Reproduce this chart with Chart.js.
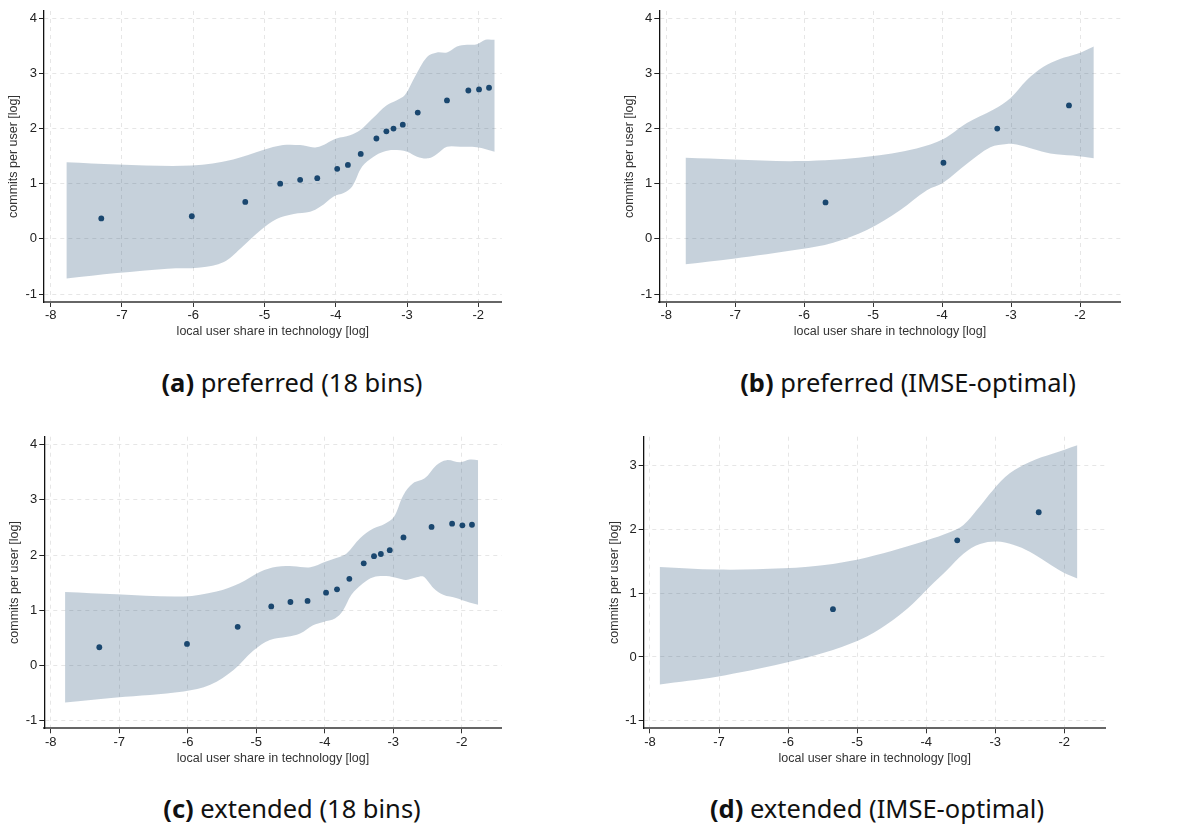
<!DOCTYPE html>
<html>
<head>
<meta charset="utf-8">
<script src="https://cdn.jsdelivr.net/npm/chart.js@4.4.1/dist/chart.umd.min.js"></script>
<style>
  html, body { margin: 0; padding: 0; background: #fff; }
  #page { position: relative; width: 1195px; height: 830px; overflow: hidden; background: #fff; }
  canvas { position: absolute; }
  .cap { position: absolute; transform: translateX(-50%); white-space: nowrap;
         font-family: "Noto Sans", "Open Sans", sans-serif; font-size: 25.5px; color: #111; line-height: 1; }
  .cap b { font-weight: 700; }
</style>
</head>
<body>
<div id="page">
  <canvas id="pa" width="600" height="345" style="left:0px;top:0px"></canvas>
  <canvas id="pb" width="595" height="345" style="left:600px;top:0px"></canvas>
  <canvas id="pc" width="600" height="350" style="left:0px;top:420px"></canvas>
  <canvas id="pd" width="595" height="350" style="left:600px;top:420px"></canvas>
  <div class="cap" style="left:292px;top:370px"><b>(a)</b> preferred (18 bins)</div>
  <div class="cap" style="left:908px;top:370px"><b>(b)</b> preferred (IMSE-optimal)</div>
  <div class="cap" style="left:292px;top:796px"><b>(c)</b> extended (18 bins)</div>
  <div class="cap" style="left:877px;top:796px"><b>(d)</b> extended (IMSE-optimal)</div>
</div>
<script>
// Axis tick values
const xTicks = [-8, -7, -6, -5, -4, -3, -2];
const yTicksFull = [-1, 0, 1, 2, 3, 4];
const yTicksShort = [-1, 0, 1, 2, 3];

const xTitle = 'local user share in technology [log]';
const yTitle = 'commits per user [log]';

// (a) preferred, 18 bins
const aBinX = [-7.29, -6.02, -5.27, -4.78, -4.50, -4.26, -3.98, -3.83, -3.65, -3.43, -3.29, -3.19, -3.06, -2.85, -2.44, -2.14, -1.99, -1.85];
const aBinY = [0.37, 0.41, 0.67, 1.00, 1.07, 1.10, 1.27, 1.34, 1.54, 1.82, 1.95, 2.00, 2.07, 2.29, 2.51, 2.69, 2.71, 2.74];
const aUpperX = [-7.78, -7.07, -6.02, -5.44, -5.02, -4.74, -4.50, -4.27, -3.99, -3.80, -3.66, -3.47, -3.29, -3.15, -3.03, -2.89, -2.72, -2.58, -2.44, -2.30, -2.16, -2.02, -1.90, -1.77];
const aUpperY = [1.39, 1.35, 1.33, 1.44, 1.61, 1.70, 1.70, 1.66, 1.82, 1.88, 1.97, 2.20, 2.42, 2.51, 2.61, 2.94, 3.30, 3.38, 3.38, 3.49, 3.52, 3.53, 3.61, 3.61];
const aLowerX = [-7.78, -7.07, -6.36, -5.90, -5.57, -5.34, -5.06, -4.83, -4.59, -4.36, -4.22, -4.03, -3.89, -3.77, -3.63, -3.47, -3.33, -3.19, -3.00, -2.86, -2.70, -2.58, -2.44, -2.25, -2.02, -1.77];
const aLowerY = [-0.72, -0.62, -0.54, -0.52, -0.42, -0.18, 0.15, 0.36, 0.45, 0.49, 0.58, 0.77, 0.83, 0.95, 1.31, 1.49, 1.58, 1.61, 1.58, 1.49, 1.46, 1.54, 1.67, 1.67, 1.66, 1.58];

// (b) preferred, IMSE-optimal bins
const bBinX = [-5.69, -3.98, -3.20, -2.16];
const bBinY = [0.66, 1.38, 2.00, 2.42];
const bUpperX = [-7.72, -7.03, -6.06, -5.09, -4.37, -3.98, -3.64, -3.26, -3.01, -2.77, -2.53, -2.29, -2.05, -1.80];
const bUpperY = [1.47, 1.44, 1.41, 1.49, 1.64, 1.81, 2.10, 2.34, 2.55, 2.88, 3.12, 3.26, 3.35, 3.49];
const bLowerX = [-7.72, -7.03, -6.06, -5.58, -5.09, -4.61, -4.22, -3.98, -3.64, -3.30, -3.06, -2.92, -2.68, -2.43, -2.10, -1.80];
const bLowerY = [-0.46, -0.36, -0.19, -0.07, 0.16, 0.52, 0.88, 1.02, 1.36, 1.66, 1.72, 1.71, 1.63, 1.55, 1.51, 1.46];

// (c) extended, 18 bins
const cBinX = [-7.29, -6.01, -5.27, -4.78, -4.50, -4.25, -3.98, -3.82, -3.64, -3.43, -3.28, -3.18, -3.05, -2.85, -2.44, -2.14, -1.99, -1.85];
const cBinY = [0.33, 0.39, 0.70, 1.07, 1.15, 1.17, 1.32, 1.38, 1.57, 1.85, 1.98, 2.02, 2.09, 2.32, 2.51, 2.57, 2.54, 2.55];
const cUpperX = [-7.79, -7.04, -6.06, -5.58, -5.24, -4.94, -4.70, -4.46, -4.21, -3.99, -3.82, -3.68, -3.48, -3.29, -3.12, -2.99, -2.85, -2.71, -2.54, -2.37, -2.22, -2.02, -1.88, -1.76];
const cUpperY = [1.33, 1.29, 1.25, 1.34, 1.49, 1.70, 1.79, 1.80, 1.78, 1.88, 1.95, 2.03, 2.31, 2.48, 2.57, 2.69, 3.09, 3.30, 3.39, 3.63, 3.72, 3.68, 3.73, 3.72];
const cLowerX = [-7.79, -7.04, -6.06, -5.67, -5.33, -5.04, -4.80, -4.55, -4.36, -4.17, -4.02, -3.85, -3.73, -3.61, -3.44, -3.29, -3.10, -2.93, -2.81, -2.66, -2.56, -2.41, -2.27, -2.07, -1.93, -1.76];
const cLowerY = [-0.67, -0.58, -0.47, -0.35, -0.08, 0.27, 0.46, 0.52, 0.58, 0.73, 0.79, 0.85, 1.00, 1.28, 1.49, 1.60, 1.62, 1.58, 1.55, 1.60, 1.61, 1.40, 1.28, 1.22, 1.16, 1.10];

// (d) extended, IMSE-optimal bins
const dBinX = [-5.35, -3.55, -2.37];
const dBinY = [0.75, 1.83, 2.27];
const dUpperX = [-7.86, -7.03, -6.07, -5.35, -4.86, -4.38, -3.99, -3.65, -3.46, -3.27, -3.03, -2.79, -2.50, -2.16, -1.81];
const dUpperY = [1.41, 1.37, 1.39, 1.46, 1.56, 1.70, 1.83, 1.96, 2.07, 2.30, 2.62, 2.88, 3.06, 3.19, 3.32];
const dLowerX = [-7.86, -7.03, -6.07, -5.35, -4.86, -4.48, -4.19, -3.95, -3.70, -3.46, -3.22, -2.98, -2.74, -2.50, -2.26, -2.02, -1.81];
const dLowerY = [-0.43, -0.31, -0.10, 0.11, 0.32, 0.58, 0.84, 1.10, 1.36, 1.62, 1.77, 1.81, 1.76, 1.65, 1.49, 1.33, 1.23];

const BAND = 'rgba(26, 71, 111, 0.25)';
const DOT = '#1a476f';
const GRID = '#e6e6e6';
const TICK_FONT = { family: '"Liberation Sans", Arial, sans-serif', size: 13 };
const TITLE_SIZE = 12.5;
const TITLE_FONT = { family: '"Liberation Sans", Arial, sans-serif', size: TITLE_SIZE, lineHeight: 1.2 };
const HALF_TITLE = TITLE_SIZE * 1.2 / 2;

const zip = (xs, ys) => xs.map((x, i) => ({ x, y: ys[i] }));

function binPlot(id, d, frame) {
  const cv = document.getElementById(id);
  const W = cv.width, H = cv.height;
  const padLeft = frame.yTitleX - HALF_TITLE;
  const yWidth = frame.left - padLeft;
  const xHeight = frame.xTitleY + HALF_TITLE - frame.bottom;
  const padBottom = H - frame.xTitleY - HALF_TITLE;

  new Chart(cv, {
    type: 'scatter',
    data: {
      datasets: [
        // bin means on top of the confidence band
        { type: 'scatter', order: 0, data: zip(d.binX, d.binY), pointRadius: 2.9, pointHoverRadius: 2.9,
          backgroundColor: DOT, borderColor: DOT, borderWidth: 0 },
        { type: 'line', order: 2, data: zip(d.lowX, d.lowY), borderWidth: 0, pointRadius: 0,
          tension: 0.35, fill: false, borderColor: 'rgba(0,0,0,0)' },
        { type: 'line', order: 1, data: zip(d.upX, d.upY), borderWidth: 0, pointRadius: 0,
          tension: 0.35, fill: 1, backgroundColor: BAND, borderColor: 'rgba(0,0,0,0)' }
      ]
    },
    options: {
      responsive: false,
      animation: false,
      devicePixelRatio: 1,
      layout: { padding: { left: padLeft, top: frame.top, right: W - frame.right, bottom: padBottom } },
      plugins: { legend: { display: false }, tooltip: { enabled: false } },
      scales: {
        x: {
          type: 'linear', min: frame.xMin, max: frame.xMax,
          afterBuildTicks: s => { s.ticks = xTicks.map(v => ({ value: v })); },
          afterFit: s => { s.height = xHeight; },
          ticks: { font: TICK_FONT, color: '#222', padding: 1, maxRotation: 0, autoSkip: false,
                   callback: v => String(v) },
          grid: { color: GRID, lineWidth: 1, tickLength: 5, tickColor: '#333', tickWidth: 1 },
          border: { color: '#666', width: 2, dash: [4, 4] },
          title: { display: true, text: xTitle, font: TITLE_FONT, color: '#333', padding: 0 }
        },
        y: {
          type: 'linear', min: frame.yMin, max: frame.yMax,
          afterBuildTicks: s => { s.ticks = frame.yTicks.map(v => ({ value: v })); },
          afterFit: s => { s.width = yWidth; },
          ticks: { font: TICK_FONT, color: '#222', padding: 2, autoSkip: false,
                   callback: v => String(v) },
          grid: { color: GRID, lineWidth: 1, tickLength: 5, tickColor: '#222', tickWidth: 1 },
          border: { color: '#111', width: 1.3, dash: [4, 4] },
          title: { display: true, text: yTitle, font: TITLE_FONT, color: '#333', padding: 0 }
        }
      }
    }
  });
}

binPlot('pa', { binX: aBinX, binY: aBinY, upX: aUpperX, upY: aUpperY, lowX: aLowerX, lowY: aLowerY },
  { left: 44, top: 11, right: 501.7, bottom: 302, yTitleX: 14, xTitleY: 332,
    xMin: -8.094, xMax: -1.672, yMin: -1.145, yMax: 4.132, yTicks: yTicksFull });
binPlot('pb', { binX: bBinX, binY: bBinY, upX: bUpperX, upY: bUpperY, lowX: bLowerX, lowY: bLowerY },
  { left: 59.3, top: 11, right: 520.7, bottom: 302, yTitleX: 30, xTitleY: 332,
    xMin: -8.10, xMax: -1.41, yMin: -1.145, yMax: 4.132, yTicks: yTicksFull });
binPlot('pc', { binX: cBinX, binY: cBinY, upX: cUpperX, upY: cUpperY, lowX: cLowerX, lowY: cLowerY },
  { left: 44.3, top: 16.7, right: 501.7, bottom: 308.3, yTitleX: 14.3, xTitleY: 338.3,
    xMin: -8.093, xMax: -1.416, yMin: -1.138, yMax: 4.145, yTicks: yTicksFull });
binPlot('pd', { binX: dBinX, binY: dBinY, upX: dUpperX, upY: dUpperY, lowX: dLowerX, lowY: dLowerY },
  { left: 43.7, top: 16.7, right: 505.7, bottom: 308.3, yTitleX: 14.3, xTitleY: 338.3,
    xMin: -8.091, xMax: -1.40, yMin: -1.119, yMax: 3.455, yTicks: yTicksShort });
</script>
</body>
</html>
